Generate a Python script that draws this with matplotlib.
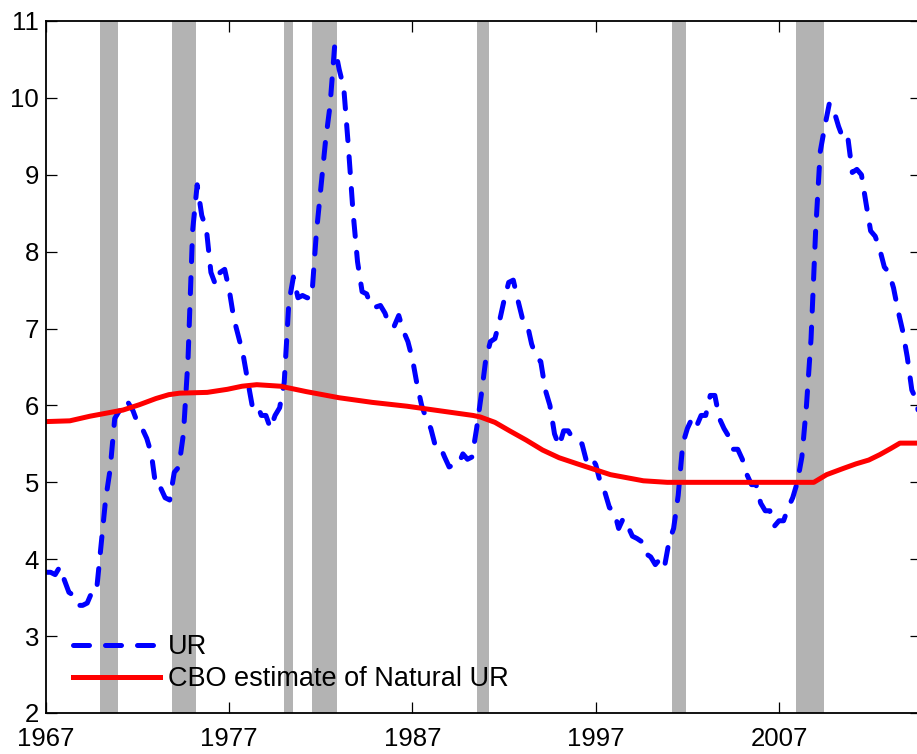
import numpy as np
import matplotlib
matplotlib.use('Agg')
import matplotlib.pyplot as plt

plt.rcParams['font.family'] = ['Liberation Sans', 'DejaVu Sans']

# Quarterly unemployment rate, 1967Q1 .. 2014Q4
ur = [3.83, 3.83, 3.80, 3.90,
      3.73, 3.57, 3.53, 3.40,
      3.40, 3.43, 3.57, 3.57,
      4.17, 4.77, 5.17, 5.83,
      5.93, 5.90, 6.03, 5.93,
      5.77, 5.70, 5.57, 5.37,
      4.93, 4.93, 4.80, 4.77,
      5.13, 5.20, 5.63, 6.60,
      8.27, 8.87, 8.47, 8.30,
      7.73, 7.57, 7.73, 7.77,
      7.50, 7.13, 6.90, 6.67,
      6.33, 6.00, 6.03, 5.87,
      5.87, 5.70, 5.87, 5.97,
      6.30, 7.33, 7.67, 7.40,
      7.43, 7.40, 7.40, 8.23,
      8.83, 9.43, 9.90, 10.67,
      10.37, 10.13, 9.37, 8.53,
      7.87, 7.48, 7.45, 7.28,
      7.28, 7.30, 7.20, 7.03,
      7.03, 7.17, 6.97, 6.83,
      6.60, 6.27, 6.00, 5.83,
      5.70, 5.47, 5.47, 5.33,
      5.20, 5.23, 5.23, 5.37,
      5.30, 5.33, 5.70, 6.13,
      6.60, 6.83, 6.87, 7.10,
      7.37, 7.60, 7.63, 7.37,
      7.13, 7.07, 6.80, 6.63,
      6.57, 6.20, 6.00, 5.63,
      5.47, 5.67, 5.67, 5.57,
      5.53, 5.50, 5.27, 5.33,
      5.23, 5.00, 4.87, 4.67,
      4.63, 4.40, 4.53, 4.43,
      4.30, 4.27, 4.23, 4.07,
      4.03, 3.93, 4.00, 3.90,
      4.23, 4.40, 4.83, 5.50,
      5.70, 5.83, 5.73, 5.87,
      5.87, 6.13, 6.13, 5.83,
      5.70, 5.60, 5.43, 5.43,
      5.30, 5.10, 4.97, 4.97,
      4.73, 4.63, 4.63, 4.43,
      4.50, 4.50, 4.67, 4.80,
      5.00, 5.33, 6.00, 6.87,
      8.27, 9.30, 9.63, 9.93,
      9.83, 9.63, 9.47, 9.50,
      9.03, 9.07, 9.00, 8.63,
      8.27, 8.20, 8.03, 7.80,
      7.73, 7.53, 7.23, 6.97,
      6.63, 6.20, 6.07, 5.70]

# CBO natural rate
nr_year = [1967, 1968.3, 1969.4, 1970.3, 1971.2, 1972.1, 1973.0, 1973.7, 1974.3,
           1975.8, 1976.9, 1977.7, 1978.5, 1979.8, 1981.2, 1983.0, 1984.8, 1986.7,
           1988.5, 1990.3, 1990.7, 1991.5, 1992.3, 1993.2, 1994.1, 1995.0, 1996.0,
           1997.8, 1998.7, 1999.6, 2000.9, 2008.9, 2009.6, 2010.5, 2011.2,
           2011.9, 2012.5, 2013.1, 2013.6, 2014.75]
nr = [5.79, 5.80, 5.86, 5.90, 5.94, 6.01, 6.09, 6.14, 6.16,
      6.17, 6.21, 6.25, 6.27, 6.25, 6.18, 6.10, 6.04, 5.99,
      5.93, 5.87, 5.85, 5.78, 5.67, 5.55, 5.42, 5.32, 5.24,
      5.10, 5.06, 5.02, 5.00, 5.00, 5.10, 5.18, 5.24,
      5.29, 5.36, 5.44, 5.51, 5.51]

rec_start = [1969.92, 1973.88, 1980.0, 1981.5, 1990.5, 2001.17, 2007.92]
rec_end = [1970.92, 1975.2, 1980.5, 1982.9, 1991.2, 2001.9, 2009.45]

years = 1967 + np.arange(len(ur)) / 4.0

fig = plt.figure(figsize=(9.17, 7.54), dpi=100)
ax = fig.add_axes([46 / 917, 41 / 754, 875 / 917, 692 / 754])

for s, e in zip(rec_start, rec_end):
    ax.axvspan(s, e, color='#b3b3b3', lw=0, zorder=1)

ax.plot(years, ur, color='#0000ff', lw=3.6, ls=(0, (3.2, 3.2)),
        dash_capstyle='round', label='UR', zorder=3)
ax.plot(nr_year, nr, color='#ff0000', lw=3.6, label='CBO estimate of Natural UR', zorder=3)

ax.set_xlim(1967, 2014.75)
ax.set_ylim(2, 11)
ax.set_xticks([1967, 1977, 1987, 1997, 2007])
ax.set_yticks(range(2, 12))
ax.tick_params(direction='in', length=8, width=0.9, labelsize=18.5,
               top=True, right=True)
ax.tick_params(axis='x', pad=10)
ax.tick_params(axis='y', pad=5)
for sp in ax.spines.values():
    sp.set_linewidth(1.3)
    sp.set_zorder(5)

ax.legend(loc='lower left', bbox_to_anchor=(27 / 875, 21 / 692), frameon=False,
          fontsize=19.5, handlelength=3.2, handletextpad=0.3, labelspacing=0.22,
          borderpad=0, borderaxespad=0)

fig.savefig('out.png', dpi=100)
